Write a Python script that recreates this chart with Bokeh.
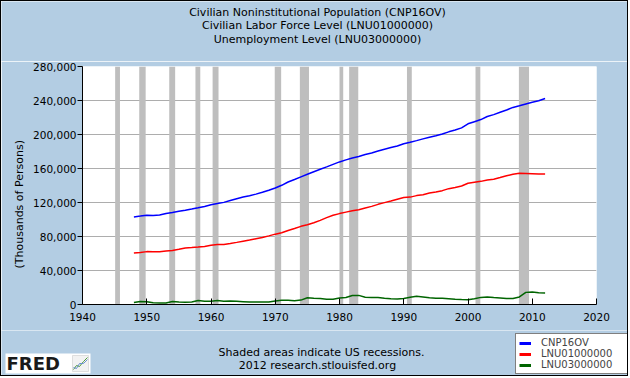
from bokeh.plotting import figure
from bokeh.layouts import column
from bokeh.models import (Range1d, Legend, LegendItem, NumeralTickFormatter, FixedTicker, Title)
from bokeh.core.properties import value
from bokeh.embed import file_html
from bokeh.resources import INLINE

# ---------------- data ----------------
years = list(range(1948, 2013))
cnp16ov = [103068, 103994, 104995, 104621, 105231, 107056, 108321, 109683, 110954, 112265,
           113727, 115329, 117245, 118771, 120153, 122416, 124485, 126513, 128058, 129874,
           132028, 134335, 137085, 140216, 144126, 147096, 150120, 153153, 156150, 159033,
           161910, 164863, 167745, 170130, 172271, 174215, 176383, 178206, 180587, 182753,
           184613, 186393, 189164, 190925, 192805, 194838, 196814, 198584, 200591, 203133,
           205220, 207753, 212577, 215092, 217570, 221168, 223357, 226082, 228815, 231867,
           233788, 235801, 237830, 239618, 242269]
lnu01000000 = [60621, 61286, 62208, 62017, 62138, 63015, 63643, 65023, 66552, 66929,
               67639, 68369, 69628, 70459, 70614, 71833, 73091, 74455, 75770, 77347,
               78737, 80734, 82771, 84382, 87034, 89429, 91949, 93775, 96158, 99009,
               102251, 104962, 106940, 108670, 110204, 111550, 113544, 115461, 117834, 119865,
               121669, 123869, 125840, 126346, 128105, 129200, 131056, 132304, 133943, 136297,
               137673, 139368, 142583, 143734, 144863, 146510, 147401, 149320, 151428, 153124,
               154287, 154142, 153889, 153617, 153485]
lnu03000000 = [2276, 3637, 3288, 2055, 1883, 1834, 3532, 2852, 2750, 2859,
               4602, 3740, 3852, 4714, 3911, 4070, 3786, 3366, 2875, 2975,
               2817, 2832, 4093, 5016, 4882, 4365, 5156, 7929, 7406, 6991,
               6202, 6137, 7637, 8273, 10678, 10717, 8539, 8312, 8237, 7425,
               6701, 6528, 7047, 8628, 9613, 8940, 7996, 7404, 7236, 6739,
               6210, 5880, 5692, 6801, 8378, 8774, 8149, 7591, 7001, 7078,
               8924, 14265, 14825, 13747, 13541]

rec_start = [1945.08, 1948.83, 1953.50, 1957.58, 1960.25, 1969.92, 1973.83, 1980.00,
             1981.50, 1990.50, 2001.17, 2007.92]
rec_end = [1945.83, 1949.83, 1954.42, 1958.33, 1961.17, 1970.92, 1975.25, 1980.58,
           1982.92, 1991.25, 2001.92, 2009.50]

x_ticks = [1940, 1950, 1960, 1970, 1980, 1990, 2000, 2010, 2020]
y_ticks = [0, 40000, 80000, 120000, 160000, 200000, 240000, 280000]

series_names = ["CNP16OV", "LNU01000000", "LNU03000000"]
series_colors = ["#0000FF", "#FF0000", "#006400"]
titles = ["Civilian Noninstitutional Population (CNP16OV)",
          "Civilian Labor Force Level (LNU01000000)",
          "Unemployment Level (LNU03000000)"]
notes = ["Shaded areas indicate US recessions.", "2012 research.stlouisfed.org"]
y_label = "(Thousands of Persons)"

FONT = "DejaVu Sans"
BG = "#B3CDE3"
W = 626
TOP_H, MAIN_H, BOT_H = 60, 269, 45


def text_panel(h):
    f = figure(width=W, height=h, output_backend="svg", toolbar_location=None,
               x_range=Range1d(0, W), y_range=Range1d(0, h),
               min_border=0, min_border_left=0, min_border_right=0,
               min_border_top=0, min_border_bottom=0, frame_align=False,
               background_fill_color=BG, border_fill_color=BG, outline_line_color=None)
    f.xaxis.visible = False
    f.yaxis.visible = False
    f.grid.visible = False
    return f


# ---------------- top: titles ----------------
top = text_panel(TOP_H)
top.text(x=[316, 316, 316], y=[TOP_H - 10.7, TOP_H - 24.2, TOP_H - 37.8], text=titles,
         text_align="center", text_baseline="middle", text_font=value(FONT),
         text_font_size="11px", text_color="black")

# ---------------- main chart ----------------
p = figure(width=W, height=MAIN_H, output_backend="svg", toolbar_location=None,
           x_range=Range1d(x_ticks[0], x_ticks[-1]), y_range=Range1d(y_ticks[0], y_ticks[-1]),
           min_border_left=81, min_border_right=31, min_border_top=5, min_border_bottom=26,
           frame_align=False,
           background_fill_color="white", border_fill_color=BG, outline_line_color=None)

p.quad(left=rec_start, right=rec_end, bottom=y_ticks[0], top=y_ticks[-1],
       fill_color="#BEBEBE", line_color=None)

for vals, c in zip([cnp16ov, lnu01000000, lnu03000000], series_colors):
    p.line(years, vals, line_color=c, line_width=1.5)

p.xgrid.visible = False
p.ygrid.grid_line_color = "#ADADAD"
p.ygrid.grid_line_width = 1
p.ygrid.level = "image"

p.xaxis.ticker = FixedTicker(ticks=x_ticks)
p.yaxis.ticker = FixedTicker(ticks=y_ticks)
p.yaxis.formatter = NumeralTickFormatter(format="0,0")
for ax in (p.xaxis[0], p.yaxis[0]):
    ax.axis_line_color = "black"
    ax.major_tick_line_color = "black"
    ax.minor_tick_line_color = None
    ax.major_label_text_font = FONT
    ax.major_label_text_font_size = "10.5px"
    ax.major_label_text_color = "black"
p.xaxis.major_tick_in = 6
p.xaxis.major_tick_out = 0
p.xaxis.major_label_standoff = 8
p.yaxis.major_tick_in = 0
p.yaxis.major_tick_out = 5
p.yaxis.major_label_standoff = 1

# y-axis title, placed a little below the frame's middle as in the reference
p.add_layout(Title(text=y_label, align="left", offset=36, standoff=10,
                   text_font=FONT, text_font_size="11px", text_font_style="normal",
                   text_color="black"), "left")

# ---------------- bottom: notes, logo, legend ----------------
bot = text_panel(BOT_H)
bot.text(x=[320, 316], y=[BOT_H - 22, BOT_H - 35], text=notes,
         text_align="center", text_baseline="middle", text_font=value(FONT),
         text_font_size="11px", text_color="black")

# FRED logo
bot.quad(left=[4], right=[89], bottom=[BOT_H - 43], top=[BOT_H - 23],
         fill_color="white", line_color=None)
bot.text(x=[5], y=[BOT_H - 33], text=["FRED"], text_align="left", text_baseline="middle",
         text_font=value(FONT), text_font_style="bold", text_font_size="18px",
         text_color="#1a1a1a")
bot.quad(left=[71], right=[87], bottom=[BOT_H - 41], top=[BOT_H - 25],
         fill_color="#F2F2F2", line_color="#CCCCCC", line_width=0.6)
bot.line(x=[72, 75, 78, 82, 86], y=[BOT_H - 39, BOT_H - 35, BOT_H - 36, BOT_H - 31, BOT_H - 27],
         line_color="#4C9A3C", line_width=1)
bot.line(x=[72, 75, 78, 82, 86], y=[BOT_H - 37, BOT_H - 38, BOT_H - 33, BOT_H - 33, BOT_H - 29],
         line_color="#6A8FD0", line_width=1)

# legend (sample renderers carry the series styles; they draw nothing themselves)
nan = float("nan")
leg_renderers = [bot.line(x=[nan], y=[nan], line_color=c, line_width=3) for c in series_colors]
legend = Legend(items=[LegendItem(label=n, renderers=[r]) for n, r in zip(series_names, leg_renderers)],
                location=(514, 1))
legend.border_line_color = "black"
legend.border_line_width = 1
legend.background_fill_color = "white"
legend.background_fill_alpha = 1
legend.label_text_font = FONT
legend.label_text_font_size = "10px"
legend.label_height = 10
legend.glyph_height = 10
legend.glyph_width = 12
legend.label_standoff = 10
legend.label_width = 83
legend.spacing = 0
legend.padding = 3
legend.margin = 0
bot.add_layout(legend, "center")

layout = column(top, p, bot, spacing=0, styles={"border": "1px solid #000000"})

open("out.html", "w").write(file_html(layout, INLINE))
